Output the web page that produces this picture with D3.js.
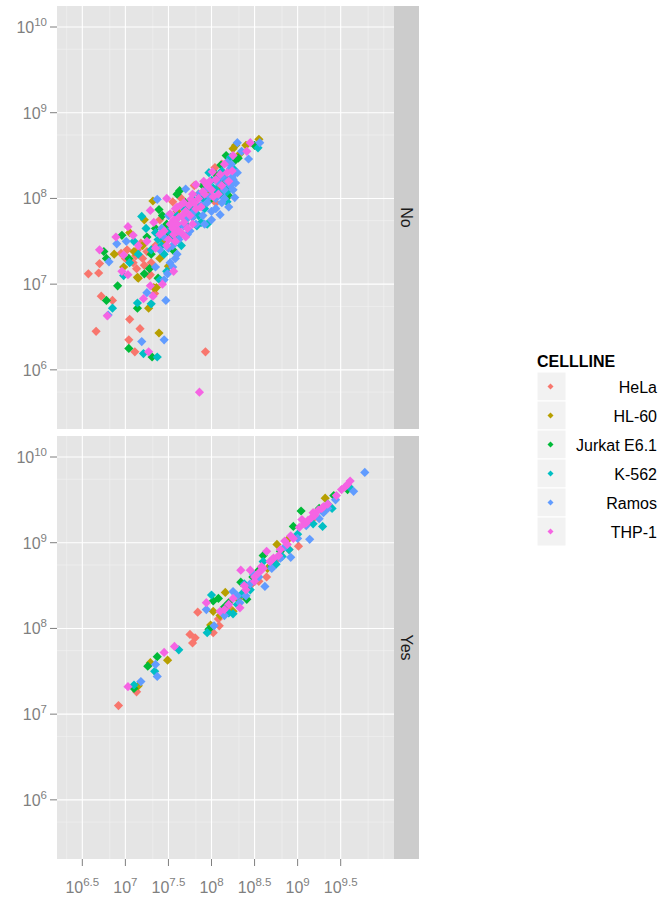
<!DOCTYPE html>
<html>
<head>
<meta charset="utf-8">
<script src="https://cdn.jsdelivr.net/npm/d3@7"></script>
<style>
  body { margin: 0; background: #fff; }
  text { font-family: "Liberation Sans", Arial, sans-serif; }
</style>
</head>
<body>
<svg id="chart" width="662" height="899"></svg>
<script>
// categories
const cellLines = ["HeLa", "HL-60", "Jurkat E6.1", "K-562", "Ramos", "THP-1"];
const facets = ["No", "Yes"];
const colors = ["#F8766D", "#B79F00", "#00BA38", "#00BFC4", "#619CFF", "#F564E3"];

// tick labels (log10 exponents)
const xTickExp = ["6.5", "7", "7.5", "8", "8.5", "9", "9.5"];
const yTickExp = ["6", "7", "8", "9", "10"];

// points as [log10 x, log10 y]
const noHeLa = [[6.57,7.12],[6.69,7.13],[6.70,7.24],[6.72,6.86],[6.66,6.45],[6.85,6.81],[7.05,6.59],[7.17,6.48],[7.04,6.35],[7.11,6.21],[7.93,6.21],[7.02,7.40],[7.09,7.25],[7.12,7.33],[7.14,7.40],[7.20,7.30],[7.25,7.38],[7.22,7.22],[7.30,7.25],[6.95,7.36],[7.00,7.30],[7.35,7.45],[7.55,7.96],[7.60,7.60],[7.45,7.55],[7.80,8.15],[7.85,7.90],[8.04,8.36],[8.07,8.20],[8.12,8.40],[7.70,7.75],[7.28,7.10],[7.40,7.75],[7.65,8.00],[7.95,8.05],[8.05,7.95],[7.34,6.89],[7.29,7.11],[7.13,7.18],[7.18,7.48]];
const noHL60 = [[6.87,7.35],[7.14,7.08],[7.27,6.72],[7.33,6.96],[7.39,6.43],[7.50,7.21],[7.22,7.75],[7.32,7.97],[8.25,8.58],[8.55,8.69],[8.33,8.52],[7.20,7.45],[7.45,7.50],[7.55,7.70],[7.75,7.95],[7.95,8.10],[8.10,8.15],[7.60,7.85],[7.40,7.30],[8.40,8.62],[7.85,8.05],[7.05,7.60],[6.98,7.20],[7.36,6.96],[7.15,7.07],[8.28,8.62],[7.10,7.38]];
const noJurkat = [[6.75,7.38],[6.78,7.30],[6.78,6.81],[6.91,6.98],[7.04,6.25],[7.31,6.15],[7.14,6.72],[7.22,7.12],[7.38,7.07],[6.96,7.57],[7.04,7.30],[7.39,7.87],[7.43,7.80],[7.63,8.09],[8.11,8.39],[8.17,8.50],[8.31,8.47],[8.20,8.03],[8.50,8.62],[7.70,7.95],[7.25,7.55],[7.50,7.60],[7.90,8.15],[8.00,8.00],[7.55,7.40],[7.30,7.35],[7.80,7.80],[8.15,8.20],[7.60,8.05],[7.28,7.18],[7.48,7.70],[8.05,8.28],[7.35,7.65],[8.28,8.45]];
const noK562 = [[6.85,6.72],[7.21,6.19],[7.37,6.15],[7.14,6.78],[7.30,6.77],[6.98,7.10],[7.19,7.79],[7.24,7.65],[8.00,8.21],[8.18,7.96],[8.54,8.59],[7.48,7.15],[7.40,7.05],[7.10,7.50],[7.30,7.40],[7.55,7.55],[7.70,7.70],[7.75,7.90],[7.85,7.80],[7.90,8.00],[8.05,8.10],[8.15,8.25],[8.25,8.35],[7.95,7.70],[7.65,7.45],[7.45,7.35],[8.10,8.05],[7.05,7.25],[8.20,8.15],[7.60,7.80],[7.35,7.60],[7.97,8.30],[7.50,7.62],[7.62,7.68],[7.80,7.98],[8.02,8.12],[7.68,7.88],[7.38,7.52],[7.15,7.35],[8.12,8.32],[8.22,8.48],[7.88,7.72],[7.58,7.50],[7.72,7.80],[7.92,7.88],[8.08,8.22],[8.18,8.08],[7.42,7.45],[7.83,7.68]];
const noRamos = [[6.81,7.26],[6.90,7.47],[7.01,7.50],[6.80,6.64],[7.19,6.33],[7.45,6.35],[7.47,6.81],[7.25,6.90],[7.49,7.12],[7.58,7.30],[7.37,7.99],[7.70,8.11],[8.18,8.42],[8.30,8.65],[8.43,8.46],[8.56,8.65],[8.25,8.22],[8.27,8.30],[8.27,8.01],[8.10,7.81],[7.45,7.55],[7.55,7.45],[7.60,7.65],[7.65,7.58],[7.70,7.75],[7.75,7.62],[7.80,7.85],[7.90,7.80],[7.95,7.95],[8.00,7.85],[8.05,8.00],[8.15,8.10],[8.22,8.15],[8.20,7.90],[7.85,8.05],[7.40,7.40],[7.35,7.20],[7.50,7.80],[8.12,8.25],[8.23,8.40],[7.60,7.35],[7.52,7.25],[7.42,7.65],[7.58,7.72],[7.68,7.68],[7.78,7.78],[7.88,7.92],[7.98,8.02],[8.08,8.18],[8.18,8.20],[8.25,8.10],[8.22,8.35],[8.00,7.75],[7.92,7.70],[7.45,7.05],[7.55,7.20],[8.15,8.00],[8.24,8.25],[8.30,8.30],[7.62,7.52],[7.72,7.58],[7.82,7.70],[8.05,7.88],[8.12,7.95],[8.28,8.18],[7.96,8.12],[8.35,8.55],[7.50,7.42]];
const noTHP1 = [[6.70,7.40],[6.79,6.63],[6.89,7.55],[7.03,7.67],[7.09,7.57],[6.98,7.34],[6.96,7.15],[7.03,7.11],[7.21,6.83],[7.32,6.86],[7.29,6.98],[7.43,7.00],[7.56,7.15],[7.27,6.21],[7.86,5.74],[7.29,7.86],[7.33,7.72],[7.48,8.00],[7.76,7.99],[7.82,8.16],[7.91,8.20],[8.01,8.31],[8.25,8.50],[8.45,8.65],[8.41,8.55],[8.24,8.32],[7.55,7.65],[7.60,7.70],[7.62,7.78],[7.65,7.60],[7.68,7.72],[7.70,7.85],[7.72,7.65],[7.75,7.80],[7.78,7.70],[7.80,7.95],[7.85,8.00],[7.88,7.90],[7.92,8.05],[7.95,8.15],[8.00,8.10],[8.05,8.22],[8.08,8.05],[8.12,8.15],[8.18,8.30],[7.50,7.52],[7.45,7.62],[7.58,7.50],[7.35,7.42],[7.40,7.58],[7.15,7.45],[7.25,7.50],[7.70,7.55],[8.15,8.40],[7.60,7.90],[7.56,7.75],[7.62,7.62],[7.52,7.70],[7.52,7.82],[7.58,7.88],[7.64,7.92],[7.66,7.80],[7.74,7.92],[7.82,7.88],[7.90,8.08],[7.98,8.20],[8.02,8.02],[8.10,8.28],[8.20,8.20],[7.48,7.45],[7.56,7.58],[7.68,7.95],[7.78,8.05]];

const yesHeLa = [[6.92,7.10],[7.13,7.26],[7.75,7.93],[7.81,7.89],[7.78,7.83],[7.84,8.19],[8.02,7.95],[8.09,8.03],[8.08,8.11],[8.64,8.60],[9.01,8.96],[8.20,8.25],[8.45,8.50],[8.75,8.80],[9.20,9.30],[8.55,8.55],[8.35,8.38],[8.90,8.92]];
const yesHL60 = [[7.15,7.33],[7.29,7.60],[7.49,7.63],[7.99,8.04],[8.02,8.20],[8.16,8.42],[8.76,8.98],[9.32,9.52],[8.30,8.35],[8.10,8.15],[8.50,8.55],[8.65,8.70],[8.90,9.05],[9.15,9.25],[8.25,8.20]];
const yesJurkat = [[7.10,7.30],[7.26,7.56],[7.37,7.67],[7.97,7.99],[8.02,8.32],[8.08,8.35],[8.41,8.34],[8.34,8.54],[8.60,8.85],[8.95,9.19],[9.04,9.37],[9.42,9.55],[9.58,9.62],[8.20,8.30],[8.48,8.60],[8.80,8.90],[9.25,9.40],[8.15,8.25],[8.55,8.68],[8.70,8.78],[9.30,9.38]];
const yesK562 = [[7.10,7.34],[7.34,7.50],[7.62,7.75],[8.00,8.39],[7.95,7.95],[8.25,8.17],[8.38,8.52],[8.60,8.78],[8.70,8.72],[8.82,8.84],[9.29,9.19],[9.35,9.45],[9.40,9.40],[8.20,8.18],[8.45,8.45],[9.00,9.10],[8.30,8.28],[9.60,9.65],[8.52,8.58],[8.75,8.75],[8.90,8.92],[9.18,9.22],[8.35,8.40]];
const yesRamos = [[7.18,7.38],[7.35,7.58],[7.37,7.44],[7.94,8.22],[8.03,8.03],[8.25,8.43],[8.33,8.30],[8.49,8.63],[8.62,8.49],[8.92,8.83],[9.14,9.04],[9.44,9.50],[9.65,9.60],[9.78,9.82],[8.15,8.15],[8.40,8.38],[8.70,8.70],[8.85,8.95],[9.10,9.20],[9.30,9.35],[8.55,8.60],[8.45,8.52],[8.80,8.82],[9.00,9.05],[9.25,9.28],[9.35,9.40],[8.30,8.38]];
const yesTHP1 = [[7.03,7.32],[7.45,7.72],[7.57,7.79],[7.94,8.30],[8.10,8.20],[8.33,8.24],[8.34,8.68],[8.45,8.68],[8.50,8.60],[8.55,8.65],[8.58,8.72],[8.64,8.90],[8.68,8.78],[8.72,8.82],[8.78,8.85],[8.85,9.02],[8.88,8.98],[8.95,9.05],[9.05,9.27],[9.08,9.22],[9.10,9.23],[9.16,9.29],[9.20,9.32],[9.24,9.38],[9.28,9.40],[9.35,9.45],[9.51,9.62],[9.55,9.65],[9.61,9.72],[8.25,8.35],[8.40,8.45],[8.15,8.22],[9.02,9.18],[9.45,9.55],[8.60,8.70],[8.70,8.80],[8.80,8.92],[8.92,9.08],[9.12,9.26],[9.18,9.35],[9.30,9.42],[8.50,8.55],[8.38,8.50],[8.20,8.28],[9.58,9.68]];

const panelData = {
    No: [noHeLa, noHL60, noJurkat, noK562, noRamos, noTHP1],
    Yes: [yesHeLa, yesHL60, yesJurkat, yesK562, yesRamos, yesTHP1]
};

const svg = d3.select("#chart");

const panelLeft = 57, panelRight = 394, stripW = 25;
const panelTops = [6, 436], panelH = 423;

let x = d3.scaleLog()
    .domain([Math.pow(10, 6.206), Math.pow(10, 10.119)])
    .range([panelLeft, panelRight]);

const xBreaks = xTickExp.map(e => Math.pow(10, +e));
const yBreaks = yTickExp.map(e => Math.pow(10, +e));

// minor breaks sit halfway between majors (in data space)
const xMinor = [Math.pow(10, 6)].concat(xBreaks, [Math.pow(10, 10)]);
let xMinorVals = d3.pairs(xMinor).map(([a, b]) => (a + b) / 2).concat([Math.pow(10, 10)]);
const yMinor = [Math.pow(10, 5)].concat(yBreaks);
let yMinorVals = d3.pairs(yMinor).map(([a, b]) => (a + b) / 2);

function expLabel(sel, exp) {
    sel.append("tspan").text("10");
    sel.append("tspan").attr("dy", -7).attr("font-size", 11.5).text(exp);
}

const diamond = r => `M0,${-r}L${r},0L0,${r}L${-r},0Z`;

facets.forEach((facet, i) => {
    let top = panelTops[i];
    let y = d3.scaleLog()
        .domain([Math.pow(10, 5.31), Math.pow(10, 10.245)])
        .range([top + panelH, top]);

    let g = svg.append("g");
    g.append("rect")
        .attr("x", panelLeft).attr("y", top)
        .attr("width", panelRight - panelLeft).attr("height", panelH)
        .attr("fill", "#E5E5E5");

    // minor grid
    g.selectAll(".xm").data(xMinorVals).enter().append("line")
        .attr("x1", d => x(d)).attr("x2", d => x(d))
        .attr("y1", top).attr("y2", top + panelH)
        .attr("stroke", "#F2F2F2").attr("stroke-width", 0.6);
    g.selectAll(".ym").data(yMinorVals).enter().append("line")
        .attr("x1", panelLeft).attr("x2", panelRight)
        .attr("y1", d => y(d)).attr("y2", d => y(d))
        .attr("stroke", "#F2F2F2").attr("stroke-width", 0.6);

    // major grid
    g.selectAll(".xM").data(xBreaks).enter().append("line")
        .attr("x1", d => x(d)).attr("x2", d => x(d))
        .attr("y1", top).attr("y2", top + panelH)
        .attr("stroke", "#fff").attr("stroke-width", 1.1);
    g.selectAll(".yM").data(yBreaks).enter().append("line")
        .attr("x1", panelLeft).attr("x2", panelRight)
        .attr("y1", d => y(d)).attr("y2", d => y(d))
        .attr("stroke", "#fff").attr("stroke-width", 1.1);

    // points
    panelData[facet].forEach((pts, k) => {
        g.selectAll(null).data(pts).enter().append("path")
            .attr("d", diamond(4.6))
            .attr("transform", d => `translate(${x(Math.pow(10, d[0]))},${y(Math.pow(10, d[1]))})`)
            .attr("fill", colors[k]);
    });

    // strip
    g.append("rect")
        .attr("x", panelRight).attr("y", top)
        .attr("width", stripW).attr("height", panelH)
        .attr("fill", "#CCCCCC");
    g.append("text")
        .attr("transform", `translate(${panelRight + stripW / 2},${top + panelH / 2}) rotate(90)`)
        .attr("text-anchor", "middle").attr("dy", "0.35em")
        .attr("font-size", 16).attr("fill", "#1A1A1A")
        .text(facet);

    // y axis
    yBreaks.forEach((b, j) => {
        g.append("line")
            .attr("x1", panelLeft - 7).attr("x2", panelLeft)
            .attr("y1", y(b)).attr("y2", y(b))
            .attr("stroke", "#7F7F7F").attr("stroke-width", 1);
        let t = g.append("text")
            .attr("x", panelLeft - 10).attr("y", y(b) + 6)
            .attr("text-anchor", "end")
            .attr("font-size", 16).attr("fill", "#7F7F7F");
        expLabel(t, yTickExp[j]);
    });
});

// x axis (bottom panel only)
const bottom = panelTops[1] + panelH;
xBreaks.forEach((b, j) => {
    svg.append("line")
        .attr("x1", x(b)).attr("x2", x(b))
        .attr("y1", bottom).attr("y2", bottom + 7)
        .attr("stroke", "#7F7F7F").attr("stroke-width", 1);
    let t = svg.append("text")
        .attr("x", x(b)).attr("y", bottom + 34)
        .attr("text-anchor", "middle")
        .attr("font-size", 16).attr("fill", "#7F7F7F");
    expLabel(t, xTickExp[j]);
});

// legend
const legX = 537, legY = 372, keyH = 29, keyW = 29;
svg.append("text")
    .attr("x", legX).attr("y", legY - 5)
    .attr("font-size", 16).attr("font-weight", "bold")
    .text("CELLLINE");

cellLines.forEach((name, k) => {
    let ky = legY + k * keyH;
    svg.append("rect")
        .attr("x", legX).attr("y", ky)
        .attr("width", keyW).attr("height", keyH)
        .attr("fill", "#F2F2F2").attr("stroke", "#fff").attr("stroke-width", 1);
    svg.append("path")
        .attr("d", diamond(3))
        .attr("transform", `translate(${legX + keyW / 2 - 1},${ky + keyH / 2})`)
        .attr("fill", colors[k]);
    svg.append("text")
        .attr("x", 657).attr("y", ky + keyH / 2 + 6)
        .attr("text-anchor", "end")
        .attr("font-size", 16)
        .text(name);
});
</script>
</body>
</html>
